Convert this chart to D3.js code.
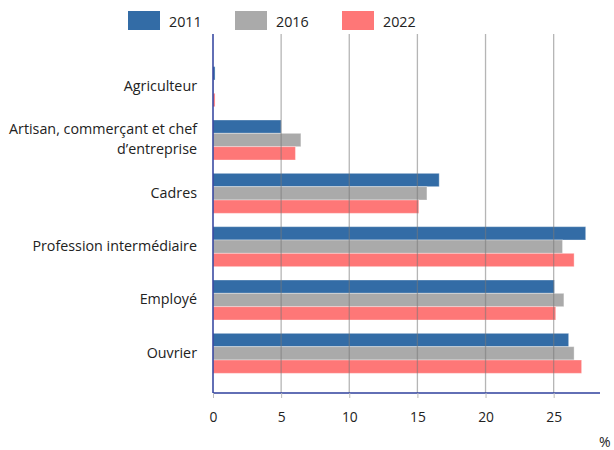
<!DOCTYPE html>
<html><head><meta charset="utf-8">
<script src="https://cdn.jsdelivr.net/npm/d3@7"></script>
<style>body{margin:0;background:#fff}svg{display:block}text{font-family:"Open Sans",sans-serif;fill:#222}</style>
</head><body>
<svg id="c" width="614" height="450"></svg>
<script>
const categories = ["Agriculteur", "Artisan, commerçant et chef\nd’entreprise", "Cadres", "Profession intermédiaire", "Employé", "Ouvrier"];
const years = ["2011", "2016", "2022"];
const v2011 = [0.15, 5.0, 16.6, 27.35, 25.05, 26.1];
const v2016 = [0.05, 6.45, 15.7, 25.65, 25.75, 26.5];
const v2022 = [0.15, 6.05, 15.1, 26.5, 25.15, 27.05];
const ticks = [0, 5, 10, 15, 20, 25];
const colors = ["#336ca6", "#aaaaaa", "#fe7777"];
const series = [v2011, v2016, v2022];

const svg = d3.select("#c");
const x = d3.scaleLinear().domain([0, 28.4]).range([213, 600]);
const y = d3.scaleBand().domain(categories).range([60, 380]).paddingInner(0.25).paddingOuter(0.125);
const ys = d3.scaleBand().domain(years).range([0, y.bandwidth()]);

// bars
series.forEach((vals, si) => {
  svg.append("g").selectAll("rect").data(categories).join("rect")
    .attr("x", x(0))
    .attr("y", d => y(d) + ys(years[si]))
    .attr("width", (d, i) => x(vals[i]) - x(0))
    .attr("height", ys.bandwidth())
    .attr("fill", colors[si])
    .attr("stroke", "rgba(255,255,255,0.35)")
    .attr("stroke-width", 1);
});

// gridlines on top
svg.append("g").selectAll("line").data(ticks.filter(t => t > 0)).join("line")
  .attr("x1", d => x(d)).attr("x2", d => x(d))
  .attr("y1", 34).attr("y2", 393)
  .attr("stroke", "rgba(120,120,120,0.55)").attr("stroke-width", 1.3);

// x axis
const xAxis = svg.append("g").attr("transform", "translate(0,393)")
  .call(d3.axisBottom(x).tickValues(ticks).tickSize(5).tickPadding(14));
xAxis.select(".domain").attr("stroke", "#2e3f9c").attr("stroke-width", 1.5).attr("d", "M213,0H600");
xAxis.selectAll(".tick line").attr("stroke", "#bbb");
xAxis.selectAll(".tick text").style("font-size", "13.8px").attr("fill", "#222");

// y axis line
svg.append("line").attr("x1", 213).attr("x2", 213).attr("y1", 34).attr("y2", 393)
  .attr("stroke", "#2e3f9c").attr("stroke-width", 1.5);

// category labels
const lab = svg.append("g").selectAll("text").data(categories).join("text")
  .attr("text-anchor", "end")
  .style("font-size", "14.3px");
lab.each(function(d) {
  const lines = d.split("\n");
  const t = d3.select(this);
  const cy = y(d) + y.bandwidth() / 2;
  const lh = 20;
  lines.forEach((l, i) => {
    t.append("tspan").attr("x", 197)
      .attr("y", cy + (i - (lines.length - 1) / 2) * lh)
      .attr("dy", "0.3em").text(l);
  });
});

// unit
svg.append("text").attr("x", 599).attr("y", 447).style("font-size", "14px").text("%");

// legend
const legX = [128, 235, 342];
const lg = svg.append("g").selectAll("g").data(years).join("g");
lg.append("rect").attr("x", (d, i) => legX[i]).attr("y", 11).attr("width", 32).attr("height", 19)
  .attr("fill", (d, i) => colors[i]);
lg.append("text").attr("x", (d, i) => legX[i] + 41).attr("y", 26.5)
  .style("font-size", "14.3px").text(d => d);
</script>
</body></html>
